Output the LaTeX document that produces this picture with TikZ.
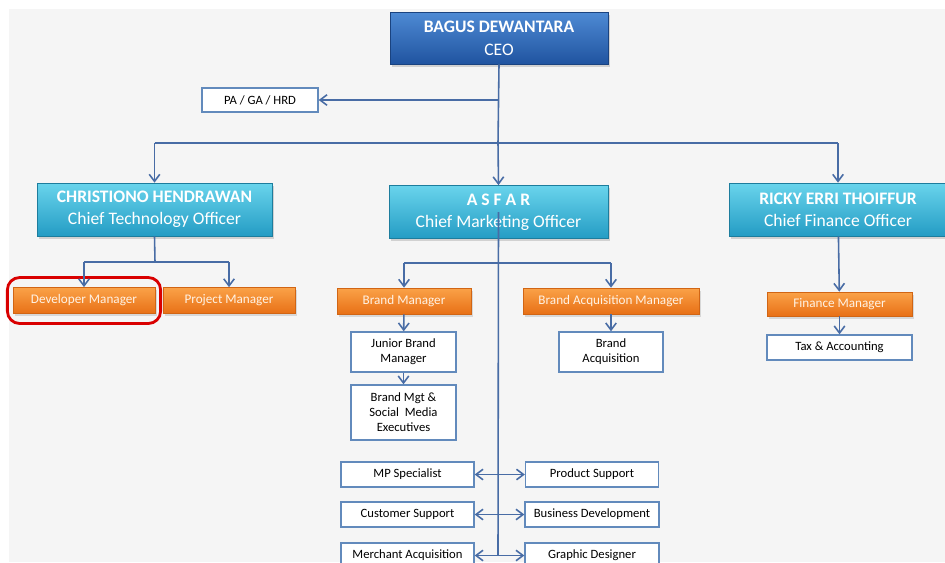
\documentclass[tikz,border=0pt]{standalone}
\usepackage{fontspec}
\setmainfont{Carlito}
\usetikzlibrary{arrows.meta,shadows,fit}
\definecolor{ceotop}{RGB}{78,138,212}
\definecolor{ceobot}{RGB}{32,84,160}
\definecolor{cxotop}{RGB}{105,212,236}
\definecolor{cxobot}{RGB}{36,156,196}
\definecolor{mgrtop}{RGB}{250,162,72}
\definecolor{mgrbot}{RGB}{232,112,22}
\definecolor{mgrtext}{RGB}{255,242,228}
\definecolor{linkblue}{RGB}{72,108,165}
\definecolor{boxline}{RGB}{98,138,188}
\definecolor{paper}{RGB}{245,245,245}

\tikzset{
  ceobox/.style={draw=ceobot!80!black, top color=ceotop, bottom color=ceobot,
    text=white, align=center, inner sep=0pt, minimum width=4.36cm, minimum height=1.04cm,
    font=\fontsize{10}{13}\selectfont, drop shadow={shadow xshift=1pt, shadow yshift=-1.5pt, opacity=0.3}},
  cxobox/.style={draw=cxobot!80!black, top color=cxotop, bottom color=cxobot,
    text=white, align=center, inner sep=0pt, minimum width=4.38cm, minimum height=1.06cm,
    font=\fontsize{10}{12.5}\selectfont, drop shadow={shadow xshift=1pt, shadow yshift=-1.5pt, opacity=0.3}},
  mgrbox/.style={draw=mgrbot!90!black, top color=mgrtop, bottom color=mgrbot,
    text=mgrtext, inner sep=0pt, minimum height=0.52cm,
    font=\fontsize{7.5}{9}\selectfont, drop shadow={shadow xshift=1pt, shadow yshift=-1.5pt, opacity=0.25}},
  staffbox/.style={draw=boxline, line width=0.8pt, fill=white, text=black, align=center,
    inner sep=0pt, minimum height=0.5cm, font=\fontsize{7.2}{8.6}\selectfont},
  link/.style={draw=linkblue, line width=0.9pt},
  arr/.style={link, -{Straight Barb[length=4pt,width=6pt]}},
  twoarr/.style={link, {Straight Barb[length=4pt,width=6pt]}-{Straight Barb[length=4pt,width=6pt]}},
  markup/.style={draw=red!85!black, line width=1.6pt, rounded corners=7pt}
}

\begin{document}
\begin{tikzpicture}[x=0.02cm, y=-0.02cm]
\useasboundingbox (0,0) rectangle (945,562);
\clip (0,0) rectangle (945,562);
\fill[white] (0,0) rectangle (945,562);
\fill[paper] (9,9) rectangle (945,562);

% CEO and staff
\node[ceobox] (ceo) at (499,38) {\textbf{BAGUS DEWANTARA}\\CEO};
\node[staffbox, minimum width=2.32cm, minimum height=0.48cm] (hrd) at (260,100) {PA / GA / HRD};

% Chiefs
\node[cxobox, minimum width=4.7cm] (cto) at (154.5,209.5) {\textbf{CHRISTIONO HENDRAWAN}\\Chief Technology Officer};
\node[cxobox] (cmo) at (498.5,212) {\textbf{A S F A R}\\Chief Marketing Officer};
\node[cxobox, minimum width=4.36cm] (cfo) at (838,209.5) {\textbf{RICKY ERRI THOIFFUR}\\Chief Finance Officer};

% CTO side
\node[mgrbox, minimum width=2.84cm] (dev) at (84,300.5) {Developer Manager};
\node[mgrbox, minimum width=2.64cm] (proj) at (229,300.5) {Project Manager};
\node[markup, fit=(dev), inner xsep=3pt, inner ysep=5.5pt] (devmark) {};

% CMO side
\node[mgrbox, minimum width=2.68cm] (brand) at (404,301) {Brand Manager};
\node[mgrbox, minimum width=3.52cm] (bam) at (611,301) {Brand Acquisition Manager};
\node[staffbox, minimum width=2.1cm, minimum height=0.8cm] (junior) at (403.5,352) {Junior Brand\\Manager};
\node[staffbox, minimum width=2.1cm, minimum height=1.1cm] (social) at (403.5,412.5) {Brand Mgt \&\\Social\ \ Media\\Executives};
\node[staffbox, minimum width=2.08cm, minimum height=0.8cm] (acq) at (611,352) {Brand\\Acquisition};

\node[staffbox, minimum width=2.66cm] (mp) at (407.5,474.5) {MP Specialist};
\node[staffbox, minimum width=2.66cm] (cs) at (407.5,514.5) {Customer Support};
\node[staffbox, minimum width=2.66cm] (merch) at (407.5,555.5) {Merchant Acquisition};
\node[staffbox, minimum width=2.66cm] (ps) at (592,474.5) {Product Support};
\node[staffbox, minimum width=2.68cm] (bizdev) at (592,514.5) {Business Development};
\node[staffbox, minimum width=2.68cm] (gd) at (592,555.5) {Graphic Designer};

% CFO side
\node[mgrbox, minimum width=2.9cm, minimum height=0.48cm] (fin) at (839.5,304) {Finance Manager};
\node[staffbox, minimum width=2.9cm] (tax) at (839.5,347.5) {Tax \& Accounting};

% Connectors
\coordinate (bar) at (498,143);
\coordinate (ctobar) at (155,262);
\coordinate (cmobar) at (498,263);
\coordinate (trunkend) at (498,555);

\draw[link] (ceo.south) -- (bar);
\draw[arr] (ceo.south |- hrd.east) -- (hrd.east);
\draw[link] (cto.north |- bar) -- (cfo.north |- bar);
\draw[arr] (cto.north |- bar) -- (cto.north);
\draw[arr] (bar) -- (cmo.north);
\draw[arr] (cfo.north |- bar) -- (cfo.north);

\draw[link] (cto.south) -- (ctobar);
\draw[link] (dev.north |- ctobar) -- (proj.north |- ctobar);
\draw[arr] (dev.north |- ctobar) -- (dev.north);
\draw[arr] (proj.north |- ctobar) -- (proj.north);

\draw[link] (cmo.center) -- (trunkend);
\draw[link] (brand.north |- cmobar) -- (bam.north |- cmobar);
\draw[arr] (brand.north |- cmobar) -- (brand.north);
\draw[arr] (bam.north |- cmobar) -- (bam.north);
\draw[arr] (brand) -- (junior);
\draw[arr] (junior) -- (social);
\draw[arr] (bam) -- (acq);

\draw[twoarr] (mp) -- (ps);
\draw[twoarr] (cs) -- (bizdev);
\draw[twoarr] (merch) -- (gd);

\draw[arr] (cfo) -- (fin);
\draw[arr] (fin) -- (tax);
\end{tikzpicture}
\end{document}
